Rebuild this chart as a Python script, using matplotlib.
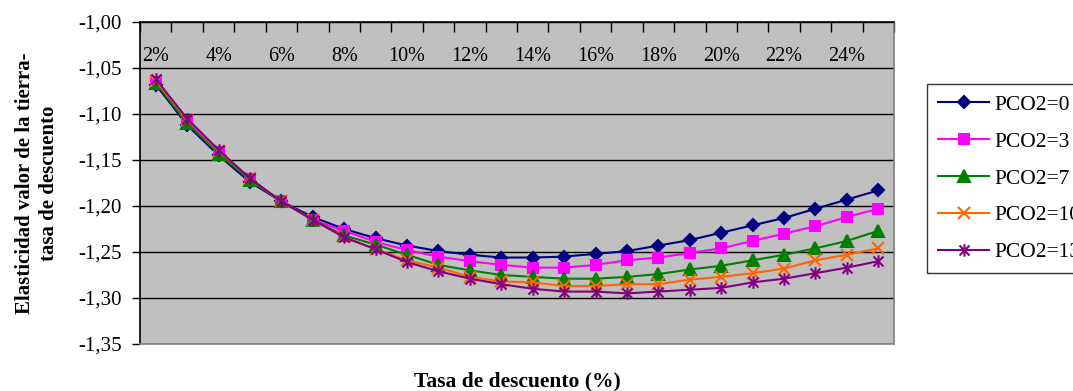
import matplotlib
matplotlib.use("Agg")
import matplotlib.pyplot as plt
from matplotlib.path import Path
from matplotlib.ticker import FuncFormatter

plt.rcParams['font.family'] = ['Liberation Serif', 'DejaVu Serif']

##--------------datos----------------------------
tasa = [2, 3, 4, 5, 6, 7, 8, 9, 10, 11, 12, 13, 14, 15, 16, 17, 18, 19, 20, 21, 22, 23, 24, 25]
etiquetas = ['2%', '4%', '6%', '8%', '10%', '12%', '14%', '16%', '18%', '20%', '22%', '24%']
series = ['PCO2=0', 'PCO2=3', 'PCO2=7', 'PCO2=10', 'PCO2=13']

pco2_0 = [-1.068, -1.112, -1.145, -1.174, -1.195, -1.212, -1.225, -1.235, -1.243, -1.249, -1.253, -1.256,
          -1.256, -1.255, -1.252, -1.249, -1.243, -1.237, -1.229, -1.221, -1.213, -1.203, -1.193, -1.183]
pco2_3 = [-1.065, -1.108, -1.141, -1.171, -1.195, -1.215, -1.227, -1.239, -1.248, -1.255, -1.260, -1.264,
          -1.267, -1.267, -1.264, -1.259, -1.256, -1.251, -1.246, -1.238, -1.230, -1.222, -1.212, -1.203]
pco2_7 = [-1.066, -1.110, -1.143, -1.172, -1.195, -1.215, -1.232, -1.242, -1.253, -1.264, -1.270, -1.275,
          -1.277, -1.279, -1.279, -1.277, -1.274, -1.269, -1.265, -1.259, -1.253, -1.246, -1.238, -1.227]
pco2_10 = [-1.064, -1.106, -1.140, -1.170, -1.195, -1.215, -1.234, -1.247, -1.259, -1.267, -1.277, -1.282,
           -1.283, -1.287, -1.287, -1.285, -1.285, -1.280, -1.277, -1.273, -1.268, -1.259, -1.253, -1.246]
pco2_13 = [-1.062, -1.105, -1.139, -1.170, -1.195, -1.215, -1.234, -1.247, -1.261, -1.271, -1.279, -1.285,
           -1.290, -1.293, -1.293, -1.295, -1.293, -1.291, -1.289, -1.283, -1.279, -1.273, -1.267, -1.260]

# asterisco estilo excel: X con barra vertical
estrella = Path([(0, -1), (0, 1), (-0.8, -0.8), (0.8, 0.8), (-0.8, 0.8), (0.8, -0.8)],
                [Path.MOVETO, Path.LINETO, Path.MOVETO, Path.LINETO, Path.MOVETO, Path.LINETO])

estilos = [('#000080', 'D', 6.5), ('#FF00FF', 's', 7), ('#008000', '^', 8),
           ('#FF6600', 'x', 8), ('#800080', estrella, 9)]

fig = plt.figure(figsize=(10.73, 3.91), dpi=100)
ax = fig.add_axes([0.1305, 0.1202, 0.7027, 0.8235])
ax.set_facecolor('#C0C0C0')

for datos, nombre, (col, mk, ms) in zip([pco2_0, pco2_3, pco2_7, pco2_10, pco2_13], series, estilos):
    ax.plot(tasa, datos, color=col, marker=mk, markersize=ms, linewidth=1.5,
            markerfacecolor=col, markeredgecolor=col, markeredgewidth=1.5, label=nombre)

ax.set_xlim(1.5, 25.5)
ax.set_ylim(-1.35, -1.00)
ax.set_yticks([-1.35, -1.30, -1.25, -1.20, -1.15, -1.10, -1.05, -1.00])
ax.yaxis.set_major_formatter(FuncFormatter(lambda v, p: ('%.2f' % v).replace('.', ',')))
ax.yaxis.grid(True, color='black', linewidth=1)
ax.set_axisbelow(True)
ax.tick_params(axis='y', direction='out', length=6, width=1, labelsize=15, pad=7)

# eje de categorias arriba, marcas hacia dentro
ax.set_xticks([t + 0.5 for t in [1] + tasa])
ax.tick_params(axis='x', top=True, bottom=False, labeltop=False, labelbottom=False,
               direction='in', length=7, width=1)
for i, lab in enumerate(etiquetas):
    ax.text(tasa[2 * i], 0.894, lab, transform=ax.get_xaxis_transform(),
            ha='center', va='center', fontsize=14.5)

ax.spines['top'].set_color('black')
ax.spines['left'].set_color('black')
ax.spines['right'].set_color('#808080')
ax.spines['bottom'].set_color('#808080')
for s in ax.spines.values():
    s.set_linewidth(1.2)

ax.set_xlabel('Tasa de descuento (%)', fontsize=15.5, fontweight='bold', labelpad=20)
ax.set_ylabel('Elasticidad valor de la tierra-\ntasa de descuento', fontsize=15,
              fontweight='bold', labelpad=14, linespacing=1.25)

leg = fig.legend(loc='upper left', bbox_to_anchor=(927 / 1073, 1 - 84 / 391),
                 bbox_transform=fig.transFigure, borderaxespad=0, fontsize=15.5,
                 frameon=True, fancybox=False, edgecolor='black', handlelength=2.4,
                 handletextpad=0.25, labelspacing=0.78, borderpad=0.5)
leg.get_frame().set_linewidth(1)

plt.savefig('out.png', dpi=100)
